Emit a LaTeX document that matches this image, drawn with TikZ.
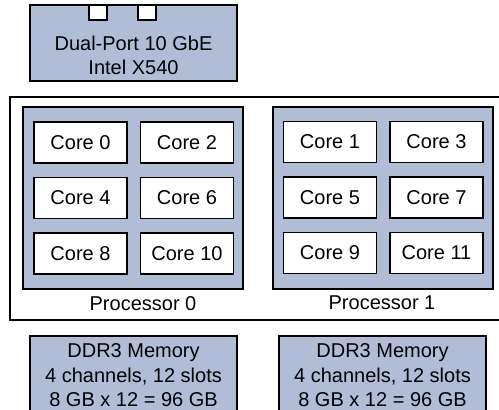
\documentclass[tikz,border=0pt]{standalone}
\usepackage{fontspec}
\setmainfont{Liberation Sans}
\usetikzlibrary{positioning}

\definecolor{chipblue}{RGB}{177,189,215}

\tikzset{
  chip/.style={draw, fill=chipblue, line width=1.2pt, inner sep=0pt},
  core/.style={draw, fill=white, line width=1.2pt, inner sep=0pt,
               minimum width=93pt, minimum height=41pt},
  port/.style={draw, fill=white, line width=1.2pt, inner sep=0pt,
               minimum width=18pt, minimum height=15pt},
  memory/.style={chip, minimum width=207pt, minimum height=79pt, align=center}
}

\begin{document}
\begin{tikzpicture}[x=1pt, y=-1pt, node distance=55.5pt and 106.5pt, on grid,
                    font=\fontsize{20}{24.5}\selectfont]
   \useasboundingbox (0,0) rectangle (499,410);

   % network card
   \node[chip, minimum width=207pt, minimum height=76pt] (nic) at (133.5,43) {};
   \node[port, anchor=north] (port0) at ([xshift=-35.5pt]nic.north) {};
   \node[port, anchor=north] (port1) at ([xshift=13.5pt]nic.north) {};
   \node[align=center] (niclabel) at ([yshift=-12.5pt]nic.center) {Dual-Port 10 GbE\\Intel X540};

   % board
   \node[draw, line width=1.2pt, minimum width=510pt, minimum height=223pt] (board) at (265,208.5) {};

   % processors
   \node[chip, minimum width=220pt, minimum height=182pt] (proc0) at (133,198) {};
   \node[chip, minimum width=220pt, minimum height=182pt] (proc1) at (383,198) {};

   \node[core] (c0) at (80.5,142.5) {Core 0};
   \node[core] (c2) [right=of c0] {Core 2};
   \node[core] (c4) [below=of c0] {Core 4};
   \node[core] (c6) [right=of c4] {Core 6};
   \node[core] (c8) [below=of c4] {Core 8};
   \node[core] (c10) [right=of c8] {Core 10};

   \node[core] (c1) at (330,142) {Core 1};
   \node[core] (c3) [right=of c1] {Core 3};
   \node[core] (c5) [below=of c1] {Core 5};
   \node[core] (c7) [right=of c5] {Core 7};
   \node[core] (c9) [below=of c5] {Core 9};
   \node[core] (c11) [right=of c9] {Core 11};

   \node (proc0label) at ([xshift=10pt, yshift=-14pt]proc0.south) {Processor 0};
   \node (proc1label) at ([xshift=-1pt, yshift=-13pt]proc1.south) {Processor 1};

   % memory
   \node[memory] (mem0) at (133.5,375.5) {DDR3 Memory\\4 channels, 12 slots\\8 GB x 12 = 96 GB};
   \node[memory] (mem1) at (382.5,375.5) {DDR3 Memory\\4 channels, 12 slots\\8 GB x 12 = 96 GB};
\end{tikzpicture}
\end{document}
